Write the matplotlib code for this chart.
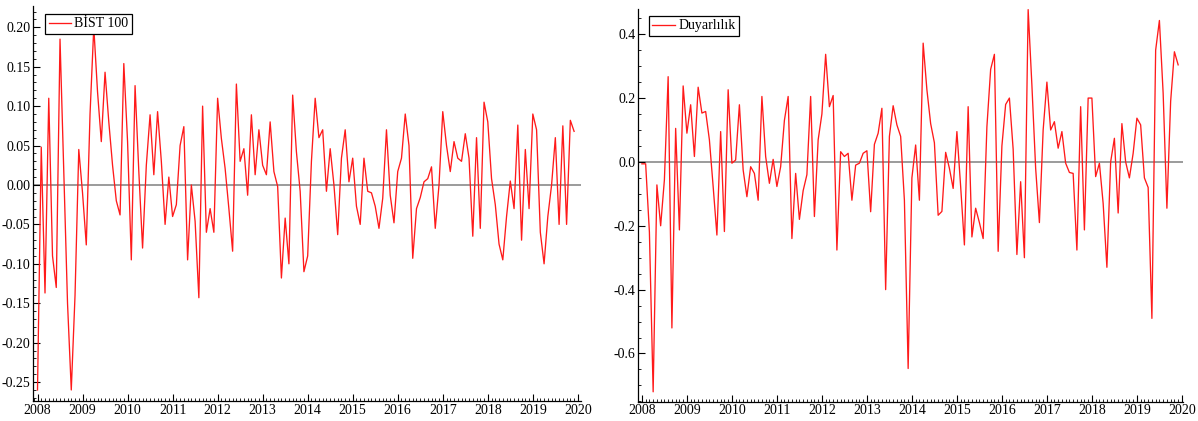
import matplotlib
matplotlib.use("Agg")
import matplotlib.pyplot as plt
import numpy as np
from matplotlib.ticker import MultipleLocator

plt.rcParams['font.family'] = ['Liberation Serif', 'DejaVu Serif']

# monthly series, Jan 2008 - Dec 2019
bist100 = [
    -0.26, 0.048, -0.137, 0.11, -0.09, -0.13, 0.185, 0.017, -0.15, -0.26, -0.14, 0.045,
    -0.01, -0.076, 0.09, 0.20, 0.118, 0.055, 0.143, 0.08, 0.025, -0.02, -0.038, 0.154,
    0.055, -0.095, 0.126, 0.017, -0.08, 0.025, 0.089, 0.013, 0.093, 0.03, -0.05, 0.01,
    -0.04, -0.025, 0.05, 0.074, -0.095, 0.0, -0.046, -0.143, 0.10, -0.06, -0.03, -0.06,
    0.11, 0.059, 0.021, -0.03, -0.084, 0.128, 0.03, 0.046, -0.013, 0.089, 0.013, 0.07,
    0.025, 0.013, 0.08, 0.017, -0.002, -0.118, -0.042, -0.10, 0.114, 0.042, -0.008, -0.11,
    -0.09, 0.03, 0.11, 0.06, 0.07, -0.008, 0.046, 0.0, -0.063, 0.034, 0.07, 0.004,
    0.034, -0.027, -0.05, 0.034, -0.008, -0.01, -0.027, -0.055, -0.017, 0.07, -0.013, -0.048,
    0.017, 0.034, 0.09, 0.05, -0.093, -0.03, -0.016, 0.004, 0.008, 0.023, -0.055, 0.0,
    0.093, 0.05, 0.017, 0.055, 0.034, 0.03, 0.065, 0.034, -0.065, 0.06, -0.055, 0.105,
    0.08, 0.008, -0.025, -0.075, -0.095, -0.04, 0.005, -0.03, 0.076, -0.07, 0.045, -0.03,
    0.09, 0.07, -0.06, -0.10, -0.04, 0.0, 0.06, -0.05, 0.075, -0.05, 0.082, 0.068,
]

duyarlilik = [
    -0.006, -0.006, -0.22, -0.72, -0.072, -0.20, -0.056, 0.267, -0.52, 0.105, -0.213, 0.238,
    0.09, 0.179, 0.017, 0.234, 0.153, 0.158, 0.069, -0.077, -0.229, 0.095, -0.218, 0.226,
    -0.004, 0.006, 0.179, -0.025, -0.109, -0.015, -0.036, -0.12, 0.205, 0.017, -0.067, 0.008,
    -0.077, -0.015, 0.13, 0.205, -0.24, -0.036, -0.18, -0.09, -0.04, 0.205, -0.171, 0.069,
    0.15, 0.337, 0.173, 0.208, -0.276, 0.032, 0.017, 0.027, -0.12, -0.01, -0.004, 0.027,
    0.035, -0.156, 0.055, 0.09, 0.168, -0.40, 0.08, 0.176, 0.116, 0.08, -0.12, -0.647,
    -0.05, 0.053, -0.12, 0.372, 0.226, 0.12, 0.06, -0.167, -0.155, 0.03, -0.02, -0.083,
    0.095, -0.077, -0.26, 0.173, -0.235, -0.145, -0.19, -0.24, 0.11, 0.29, 0.337, -0.28,
    0.05, 0.18, 0.20, 0.04, -0.29, -0.062, -0.30, 0.477, 0.24, -0.02, -0.19, 0.10,
    0.25, 0.10, 0.126, 0.043, 0.095, -0.004, -0.033, -0.036, -0.276, 0.173, -0.213, 0.20,
    0.20, -0.046, -0.004, -0.13, -0.33, 0.0, 0.074, -0.16, 0.12, 0.0, -0.05, 0.027,
    0.137, 0.116, -0.05, -0.08, -0.49, 0.35, 0.443, 0.215, -0.145, 0.19, 0.345, 0.304,
]

years = [2008, 2009, 2010, 2011, 2012, 2013, 2014, 2015, 2016, 2017, 2018, 2019, 2020]

t = 2008 + np.arange(len(bist100)) / 12.0

W, H = 1198, 421
fig = plt.figure(figsize=(W / 100, H / 100), dpi=100)


def style_axis(ax, xlim, ylim, ymajor, yminor, yfmt):
    ax.set_xlim(*xlim)
    ax.set_ylim(*ylim)
    ax.spines['top'].set_visible(False)
    ax.spines['right'].set_visible(False)
    for s in ('left', 'bottom'):
        ax.spines[s].set_linewidth(0.9)
    ax.set_xticks(years)
    ax.set_xticklabels([str(y) for y in years])
    ax.xaxis.set_minor_locator(MultipleLocator(1 / 12))
    ax.yaxis.set_major_locator(MultipleLocator(ymajor))
    ax.yaxis.set_minor_locator(MultipleLocator(yminor))
    ax.yaxis.set_major_formatter(plt.FuncFormatter(lambda v, p: yfmt.format(v).replace('-0.00', '0.00')))
    ax.tick_params(which='major', direction='in', length=5, width=0.8, labelsize=10, pad=2)
    ax.tick_params(which='minor', direction='in', length=2.5, width=0.6)
    ax.axhline(0, color='#808080', lw=1.1, zorder=1)


def add_legend(ax, anchor):
    leg = ax.legend(loc='upper left', bbox_to_anchor=anchor, borderaxespad=0,
                    fancybox=False, edgecolor='black', framealpha=1, fontsize=10,
                    handlelength=1.6, borderpad=0.25, handletextpad=0.25)
    leg.get_frame().set_linewidth(0.9)


# left panel
ax1 = fig.add_axes([33 / W, 1 - 401 / H, 548 / W, 395 / H])
ax1.plot(t, bist100, color='#ff1a1a', lw=0.95, label='BİST 100', zorder=2)
style_axis(ax1, (2007.9, 2020.07), (-0.274, 0.227), 0.05, 0.01, '{:.2f}')
add_legend(ax1, (0.022, 0.98))

# right panel
ax2 = fig.add_axes([638.3 / W, 1 - 401.7 / H, 544.5 / W, 392.4 / H])
ax2.plot(t, duyarlilik, color='#ff1a1a', lw=0.95, label='Duyarlılık', zorder=2)
style_axis(ax2, (2007.92, 2020.02), (-0.751, 0.478), 0.2, 0.05, '{:.1f}')
add_legend(ax2, (0.0196, 0.983))

fig.savefig('out.png', dpi=100)
